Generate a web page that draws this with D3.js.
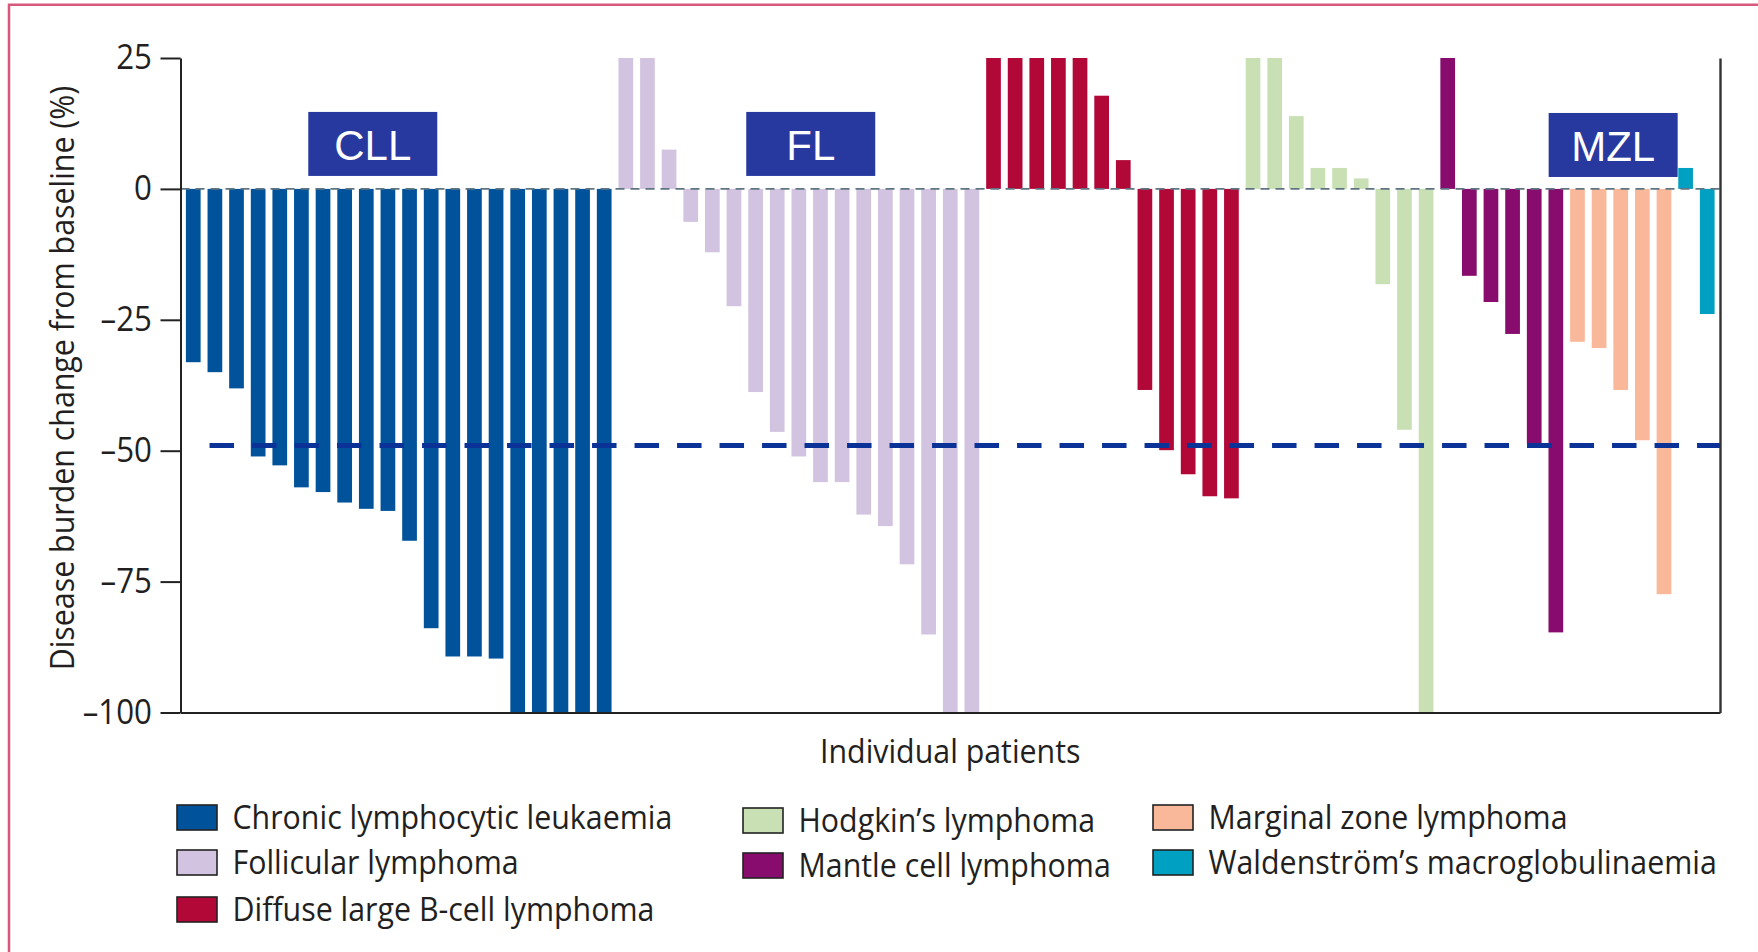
<!DOCTYPE html>
<html><head><meta charset="utf-8">
<script src="https://cdn.jsdelivr.net/npm/d3@7"></script>
<style>
html,body{margin:0;padding:0;background:#fff;}
svg{display:block;}
</style></head><body>
<svg id="chart" width="1758" height="952"></svg>
<script>
// ---------- data ----------
const subtypes = ["Chronic lymphocytic leukaemia","Follicular lymphoma","Diffuse large B-cell lymphoma","Hodgkin\u2019s lymphoma","Mantle cell lymphoma","Marginal zone lymphoma","Waldenstr\u00f6m\u2019s macroglobulinaemia"];
const subtypeColors = ["#00539b","#d2c4e0","#b20838","#c9e0b4","#870c6d","#f9b89a","#00a0c2"];
const cllValues = [-33.1,-35.0,-38.1,-51.1,-52.8,-57.0,-57.9,-59.9,-61.1,-61.5,-67.2,-83.9,-89.3,-89.3,-89.7,-100,-100,-100,-100,-100];
const flValues = [25,25,7.5,-6.3,-12.1,-22.4,-38.8,-46.4,-51.1,-56.0,-56.0,-62.2,-64.4,-71.7,-85.1,-100,-100];
const dlbclValues = [25,25,25,25,25,17.8,5.5,-38.4,-49.9,-54.5,-58.7,-59.1];
const hlValues = [25,25,13.9,4.0,4.0,2.0,-18.2,-46.0,-100];
const mclValues = [25,-16.6,-21.6,-27.7,-48.6,-84.7];
const mzlValues = [-29.2,-30.4,-38.4,-48.0,-77.4];
const wmValues = [4.0,-23.9];
const seriesValues = [cllValues, flValues, dlbclValues, hlValues, mclValues, mzlValues, wmValues];
const yTickValues = [25,0,-25,-50,-75,-100];
const yTickLabels = ["25","0","\u201325","\u201350","\u201375","\u2013100"];
const responseThreshold = -49;
const boxLabels = ["CLL","FL","MZL"];
const boxCentres = [8.3, 28.55, 65.65];   // in patient-index units
const boxTops = [14.7, 14.7, 14.5];       // in % units
const legendColumns = [[0,1,2],[3,4],[5,6]];
const xTitle = "Individual patients";
const yTitle = "Disease burden change from baseline (%)";

(function draw() {
const patients = [];
seriesValues.forEach((vals, s) => vals.forEach(v => patients.push({id: patients.length, s, v})));

const svg = d3.select("#chart");
const FONT = "'Open Sans', 'Noto Sans', sans-serif";
const TXT = "#231f20";
const SX = 0.92;

// frame
svg.append("path").attr("d","M9,952 L9,4.7 L1758,4.7")
  .attr("fill","none").attr("stroke","#d6587a").attr("stroke-width",2.5);

const pLeft = 180.5, pRight = 1720, pTop = 58, pBottom = 712.5;
const x = d3.scaleBand().domain(patients.map(d => d.id)).range([pLeft, pRight]).paddingInner(0.32).paddingOuter(0.25);
const y = d3.scaleLinear().domain([-100, 25]).range([pBottom, pTop]);
const clampV = v => Math.max(-100, Math.min(25, v));

// bars
svg.append("g").selectAll("rect").data(patients).join("rect")
  .attr("x", d => x(d.id))
  .attr("width", x.bandwidth())
  .attr("y", d => y(Math.max(0, clampV(d.v))))
  .attr("height", d => Math.abs(y(clampV(d.v)) - y(0)))
  .attr("fill", d => subtypeColors[d.s]);

// zero line
svg.append("line").attr("x1", pLeft).attr("x2", pRight).attr("y1", y(0)).attr("y2", y(0))
  .attr("stroke","#5f7682").attr("stroke-width",1.6).attr("stroke-dasharray","9,6");

// threshold line
svg.append("line").attr("x1", x(1) + 2).attr("x2", pRight).attr("y1", y(responseThreshold)).attr("y2", y(responseThreshold))
  .attr("stroke","#0b3296").attr("stroke-width",5).attr("stroke-dasharray","24.5,18");

// axes
const yAxis = svg.append("g").attr("transform", `translate(${pLeft},0)`)
  .call(d3.axisLeft(y).tickValues(yTickValues).tickFormat((d,i) => yTickLabels[i]).tickSize(20).tickSizeOuter(0).tickPadding(8.5));
yAxis.selectAll("path,line").attr("stroke","#222").attr("stroke-width",2);
yAxis.selectAll("text").each(function(){
  const t = d3.select(this);
  const tx = +t.attr("x");
  t.attr("x",0).attr("transform",`translate(${tx},0) scale(${SX},1)`);
}).attr("font-family",FONT).attr("font-size",34).attr("fill",TXT);

const xAxis = svg.append("g").attr("transform", `translate(0,${pBottom})`)
  .call(d3.axisBottom(x).tickValues([]).tickSizeOuter(0));
xAxis.selectAll("path").attr("stroke","#222").attr("stroke-width",2);
const rAxis = svg.append("g").attr("transform", `translate(${pRight},0)`)
  .call(d3.axisRight(y).tickValues([]).tickSizeOuter(0));
rAxis.selectAll("path").attr("stroke","#333").attr("stroke-width",2.4);

function addText(tx, ty, str, anchor, size, extra) {
  return svg.append("text")
    .attr("transform", `translate(${tx},${ty}) ${extra || ""} scale(${SX},1)`)
    .attr("text-anchor", anchor).attr("font-family", FONT).attr("font-size", size)
    .attr("fill", TXT).text(str);
}

// titles
addText((pLeft + pRight) / 2, 763, xTitle, "middle", 33);
addText(74, 378, yTitle, "middle", 33, "rotate(-90)");

// annotation boxes
const bw = x.bandwidth();
const idx = d3.scaleLinear().domain([0, patients.length - 1]).range([x(0) + bw / 2, x(patients.length - 1) + bw / 2]);
boxLabels.forEach((lab, i) => {
  const cx = idx(boxCentres[i]), ty = y(boxTops[i]);
  svg.append("rect").attr("x", cx - 64.5).attr("y", ty).attr("width", 129).attr("height", 64).attr("fill", "#27389f");
  svg.append("text").attr("x", cx).attr("y", ty + 48).attr("text-anchor","middle")
    .attr("font-family","'Liberation Sans', Arial, sans-serif").attr("font-size",42).attr("fill","#fff").text(lab);
});

// legend
const colX = [177, 743, 1153], colDY = [0, 3, 0], rowY = [805, 850, 897];
legendColumns.forEach((col, c) => col.forEach((s, r) => {
  const ry = rowY[r] + colDY[c];
  svg.append("rect").attr("x", colX[c]).attr("y", ry).attr("width", 40).attr("height", 25)
    .attr("fill", subtypeColors[s]).attr("stroke", "#222").attr("stroke-width", 1.6);
  addText(colX[c] + 55.5, ry + 23.5, subtypes[s], "start", 33);
}));
})();
</script>
</body></html>
